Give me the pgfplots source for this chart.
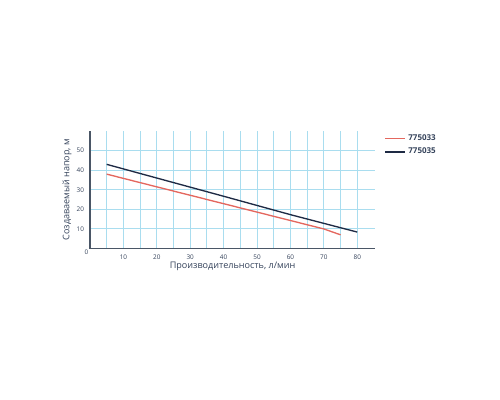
\documentclass[border=0pt]{standalone}
\usepackage{pgfplots}
\pgfplotsset{compat=1.18}
\usepackage{fontspec}
\setmainfont{Open Sans}
\definecolor{gridc}{HTML}{A9DDEF}
\definecolor{redc}{HTML}{E4675E}
\definecolor{navyc}{HTML}{1E2A44}
\definecolor{axc}{HTML}{4A5666}
\definecolor{txtc}{HTML}{34425A}
\begin{document}
\begin{tikzpicture}[x=0.75pt,y=0.75pt]
\path[use as bounding box] (0,0) rectangle (500,400);
\begin{axis}[
  at={(67.5pt,113.6pt)}, anchor=south west,
  scale only axis, width=213.75pt, height=88.1pt,
  xmin=0, xmax=85.3, ymin=0, ymax=60,
  axis x line=bottom, axis y line=left,
  axis line style={axc, line width=0.9pt, -},
  xtick={10,20,...,80}, ytick={10,20,...,50},
  minor xtick={5,15,...,75},
  major tick length=0pt, minor tick length=0pt,
  grid=both,
  major grid style={gridc, line width=0.75pt},
  minor grid style={gridc, line width=0.75pt},
  ticklabel style={font=\fontsize{4.8}{5}\selectfont, text=txtc},
  /pgf/number format/assume math mode=true,
  xticklabel style={yshift=-1pt},
  yticklabel style={xshift=-1pt},
  xlabel={Производительность, л/мин},
  ylabel={Создаваемый напор, м},
  label style={font=\fontsize{6.8}{8}\selectfont, text=txtc},
  xlabel style={yshift=4.5pt},
  ylabel style={yshift=-3pt},
  clip=false,
  legend style={at={(1.018,1.02)}, anchor=north west, draw=none, fill=none,
    font=\bfseries\fontsize{6}{7}\selectfont, text=txtc, row sep=0.5pt,
    /tikz/every even column/.append style={column sep=2pt}},
  legend cell align=left,
  legend image code/.code={\draw[#1] (0pt,0pt) -- (15pt,0pt);},
]
\addplot[redc, line width=1pt] coordinates {(5,38) (20,31.5) (40,22.9) (60,14.3) (70,10) (75,7)};
\addlegendentry{775033}
\addplot[navyc, line width=1pt] coordinates {(5,43) (20,36) (40,26.7) (60,17.3) (80,8.4)};
\addlegendentry{775035}
\node[anchor=north east, font=\fontsize{4.8}{5}\selectfont, text=txtc, inner sep=1pt] at (axis cs:0,0) {0};
\end{axis}
\end{tikzpicture}
\end{document}
